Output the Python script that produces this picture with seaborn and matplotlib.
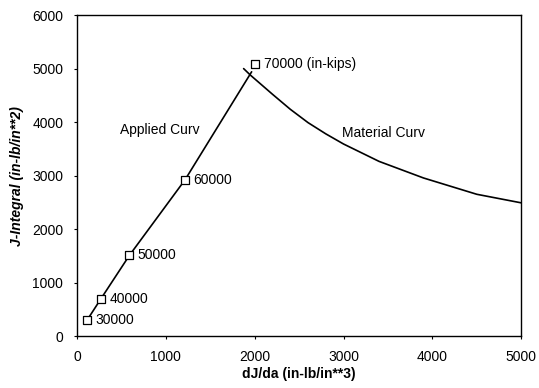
import matplotlib
matplotlib.use("Agg")
import matplotlib.pyplot as plt
import seaborn as sns
import pandas as pd

# Applied curve (line)
applied_x = [110, 270, 590, 1215, 1965]
applied_y = [290, 700, 1510, 2920, 4940]

# Load markers (in-kips)
load_labels = ["30000", "40000", "50000", "60000", "70000 (in-kips)"]
marker_x = [110, 270, 590, 1215, 2005]
marker_y = [290, 700, 1510, 2920, 5080]

# Material curve
material_x = [1875, 1950, 2200, 2400, 2600, 2800, 3000, 3400, 3900, 4500, 5000]
material_y = [5000, 4880, 4520, 4240, 3990, 3780, 3590, 3265, 2955, 2650, 2490]

x_ticks = [0, 1000, 2000, 3000, 4000, 5000]
y_ticks = [0, 1000, 2000, 3000, 4000, 5000, 6000]

sns.set_style("ticks")
plt.rcParams['font.family'] = ['Liberation Sans', 'DejaVu Sans']
plt.rcParams['font.size'] = 10
plt.rcParams['text.color'] = 'black'
plt.rcParams['axes.labelcolor'] = 'black'
plt.rcParams['xtick.color'] = 'black'
plt.rcParams['ytick.color'] = 'black'

fig = plt.figure(figsize=(5.39, 3.88), dpi=100)
ax = fig.add_axes([0.143, 0.134, 0.824, 0.827])

df_app = pd.DataFrame({"x": applied_x, "y": applied_y})
df_mat = pd.DataFrame({"x": material_x, "y": material_y})
df_mk = pd.DataFrame({"x": marker_x, "y": marker_y, "label": load_labels})

sns.lineplot(data=df_app, x="x", y="y", sort=False, color="black", linewidth=1.2, ax=ax)
sns.lineplot(data=df_mat, x="x", y="y", sort=False, color="black", linewidth=1.2, ax=ax)
sns.scatterplot(data=df_mk, x="x", y="y", marker="s", s=30, facecolor="white",
                edgecolor="black", linewidth=0.9, ax=ax, zorder=5)

for _, r in df_mk.iterrows():
    ax.annotate(r["label"], (r["x"], r["y"]), xytext=(6, 0), textcoords="offset points",
                ha="left", va="center", fontsize=10, color="black")

ax.text(935, 3850, "Applied Curv", ha="center", va="center", fontsize=10, color="black")
ax.text(3446, 3794, "Material Curv", ha="center", va="center", fontsize=10, color="black")

ax.set_xlim(0, 5000)
ax.set_ylim(0, 6000)
ax.set_xticks(x_ticks)
ax.set_yticks(y_ticks)
ax.tick_params(direction="out", length=2, width=0.8, colors="black", labelsize=10, pad=8)
for s in ax.spines.values():
    s.set_visible(True)
    s.set_color("black")
    s.set_linewidth(1.0)

ax.set_xlabel("dJ/da (in-lb/in**3)", fontsize=10, fontweight="bold", labelpad=2, color="black")
ax.set_ylabel("J-Integral (in-lb/in**2)", fontsize=10, fontweight="bold", fontstyle="italic",
              labelpad=6, color="black")

fig.savefig("out.png", dpi=100)
